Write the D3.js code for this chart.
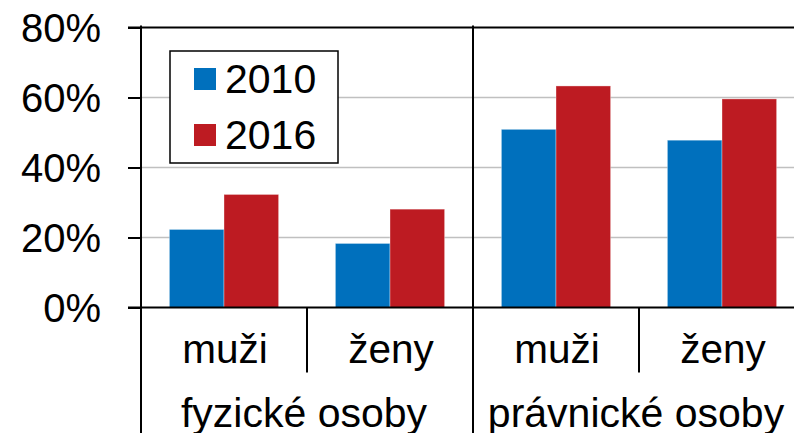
<!DOCTYPE html>
<html>
<head>
<meta charset="utf-8">
<script src="https://cdn.jsdelivr.net/npm/d3@7"></script>
<style>
  body { margin: 0; background: #fff; }
  text { font-family: "Liberation Sans", Arial, sans-serif; fill: #000; }
</style>
</head>
<body>
<div id="chart"></div>
<script>
/* chart data */
var groups = ["fyzické osoby", "právnické osoby"]
var categories = ["muži", "ženy"]
var years = ["2010", "2016"]
var values2010 = [22.3, 18.3, 50.9, 47.8]
var values2016 = [32.3, 28.1, 63.3, 59.6]
var yTicks = [0, 20, 40, 60, 80]

var yearColors = { "2010": "#0070BD", "2016": "#BD1B22" }

var width = 794, height = 433
var layout = { left: 141, right: 805, top: 27.5, bottom: 307.5, fontSize: 40 }

/* one key per bar cluster: group|category */
var keys = []
groups.forEach(function(g) {
  categories.forEach(function(c) { keys.push(g + "|" + c) })
})

var rows = keys.map(function(k, i) {
  return { key: k, group: k.split("|")[0], cat: k.split("|")[1],
           vals: [ { year: years[0], v: values2010[i] }, { year: years[1], v: values2016[i] } ] }
})

var x = d3.scaleBand().domain(keys).range([layout.left, layout.right]).padding(0)
var xGroup = d3.scaleBand().domain(groups).range([layout.left, layout.right]).padding(0)
var xYear = d3.scaleBand().domain(years).range([0, x.bandwidth()]).paddingInner(0).paddingOuter(0.52)
var y = d3.scaleLinear().domain([0, 80]).range([layout.bottom, layout.top])

var svg = d3.select("#chart").append("svg")
    .attr("width", width)
    .attr("height", height)

/* grid lines */
svg.append("g").selectAll("line")
    .data(yTicks.filter(function(t) { return t > 0 && t < 80 }))
    .enter().append("line")
    .attr("x1", layout.left).attr("x2", layout.right)
    .attr("y1", function(d) { return y(d) }).attr("y2", function(d) { return y(d) })
    .style("stroke", "#c0c0c0").style("stroke-width", 1.5)

/* bars */
var cluster = svg.append("g").selectAll("g")
    .data(rows).enter().append("g")
    .attr("transform", function(d) { return "translate(" + x(d.key) + ",0)" })

cluster.selectAll("rect")
    .data(function(d) { return d.vals })
    .enter().append("rect")
    .attr("x", function(d) { return xYear(d.year) })
    .attr("width", xYear.bandwidth())
    .attr("y", function(d) { return y(d.v) })
    .attr("height", function(d) { return y(0) - y(d.v) })
    .attr("fill", function(d) { return yearColors[d.year] })
    .style("stroke", "#fff").style("stroke-opacity", 0.35).style("stroke-width", 1)

/* top line (80%) and x axis */
svg.append("line")
    .attr("x1", layout.left - 13).attr("x2", layout.right)
    .attr("y1", y(80)).attr("y2", y(80))
    .style("stroke", "#000").style("stroke-width", 2)
svg.append("line")
    .attr("x1", layout.left - 13).attr("x2", layout.right)
    .attr("y1", y(0)).attr("y2", y(0))
    .style("stroke", "#000").style("stroke-width", 2)

/* y axis */
var yAxis = d3.axisLeft(y).tickValues(yTicks).tickSize(13).tickPadding(27)
    .tickFormat(function(d) { return d + "%" })
var ya = svg.append("g")
    .attr("transform", "translate(" + layout.left + ",0)")
    .call(yAxis)
ya.select(".domain").remove()
ya.selectAll(".tick line").style("stroke", "#000").style("stroke-width", 2)
ya.selectAll(".tick text")
    .style("font-size", layout.fontSize + "px")
    .style("font-family", "Liberation Sans, Arial, sans-serif")
    .attr("fill", "#000")
    .attr("dy", "0.36em")

/* group dividers, full height */
svg.append("g").selectAll("line")
    .data(groups).enter().append("line")
    .attr("x1", function(d) { return xGroup(d) }).attr("x2", function(d) { return xGroup(d) })
    .attr("y1", y(80) - 2).attr("y2", height)
    .style("stroke", "#000").style("stroke-width", 2)

/* category dividers below the axis */
svg.append("g").selectAll("line")
    .data(groups).enter().append("line")
    .attr("x1", function(d) { return xGroup(d) + xGroup.bandwidth() / 2 })
    .attr("x2", function(d) { return xGroup(d) + xGroup.bandwidth() / 2 })
    .attr("y1", y(0)).attr("y2", 372.5)
    .style("stroke", "#000").style("stroke-width", 2)

/* category labels */
svg.append("g").selectAll("text")
    .data(rows).enter().append("text")
    .attr("x", function(d) { return x(d.key) + x.bandwidth() / 2 + 1 })
    .attr("y", 362.5)
    .attr("text-anchor", "middle")
    .style("font-size", "40.5px")
    .text(function(d) { return d.cat })

/* group labels */
svg.append("g").selectAll("text")
    .data(groups).enter().append("text")
    .attr("x", function(d) { return xGroup(d) + 163 })
    .attr("y", 426.5)
    .attr("text-anchor", "middle")
    .style("font-size", "41px")
    .text(function(d) { return d })

/* legend */
var legend = svg.append("g").attr("transform", "translate(170,51)")
legend.append("rect")
    .attr("width", 168).attr("height", 112)
    .attr("fill", "#fff")
    .style("stroke", "#000").style("stroke-width", 1.5)
var item = legend.selectAll(".item")
    .data(years).enter().append("g")
    .attr("transform", function(d, i) { return "translate(24," + (17 + i * 56) + ")" })
item.append("rect")
    .attr("width", 22).attr("height", 22)
    .attr("fill", function(d) { return yearColors[d] })
item.append("text")
    .attr("x", 31).attr("y", 25)
    .style("font-size", "41px")
    .text(function(d) { return d })
</script>
</body>
</html>
